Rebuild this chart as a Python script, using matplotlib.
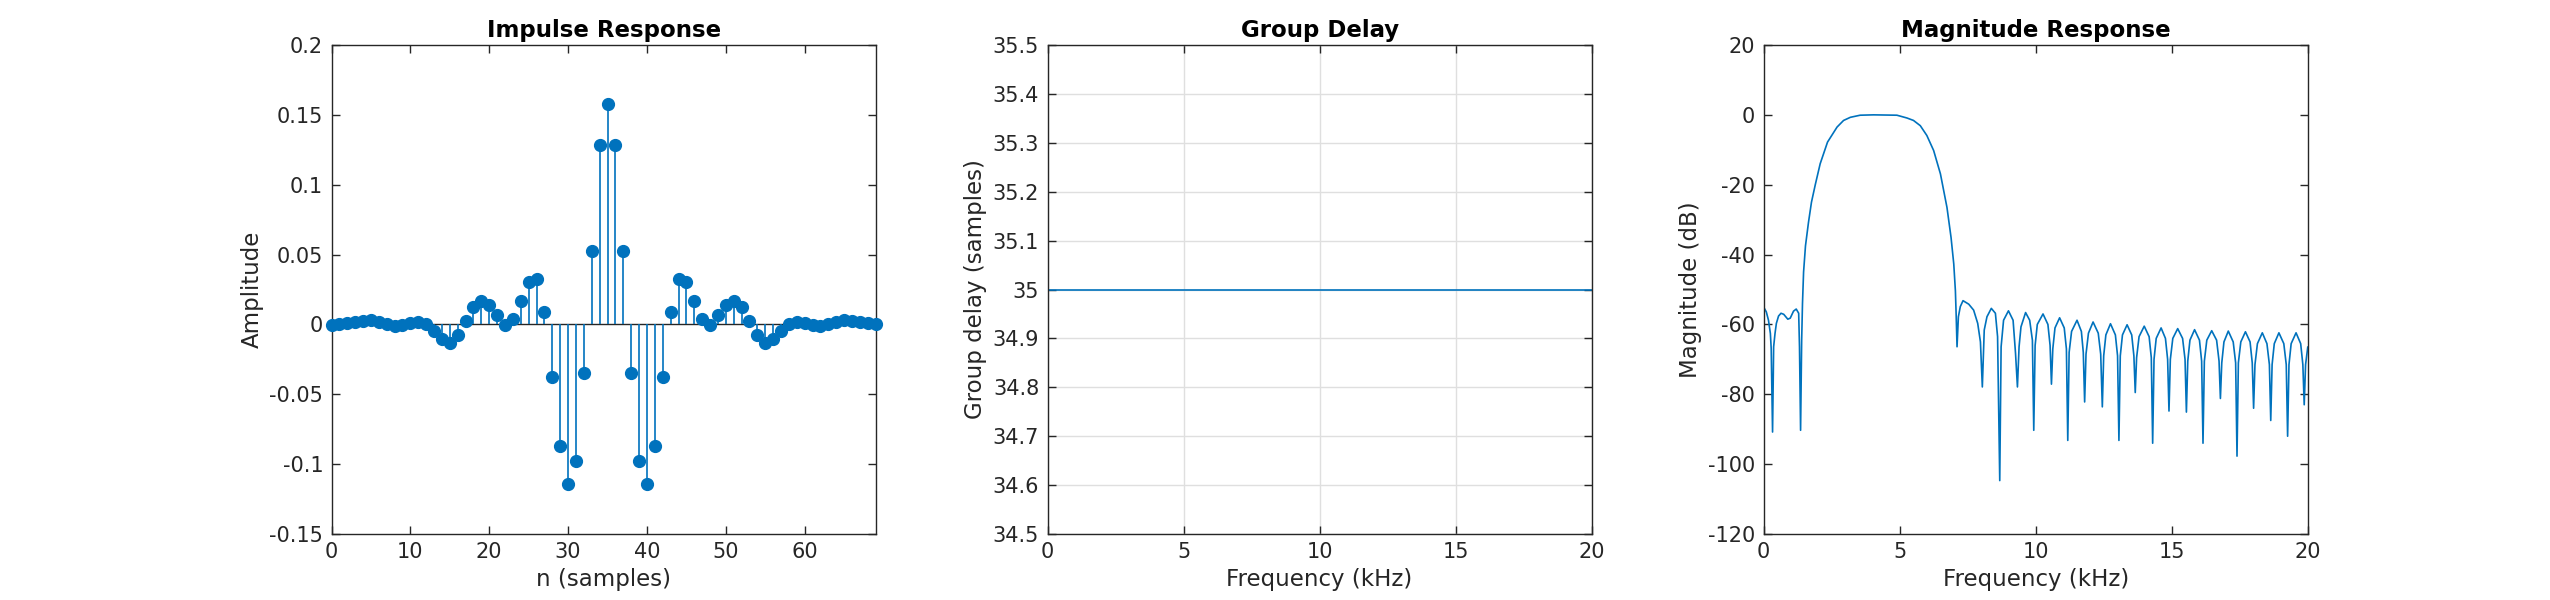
import numpy as np
import matplotlib
matplotlib.use('Agg')
import matplotlib.pyplot as plt

plt.rcParams['font.family'] = ['DejaVu Sans']

BLUE = '#0072BD'
AXCOL = '#262626'

# impulse response h[n], n = 0..70
n_samples = np.arange(71)
impulse = [
    -0.0003, 0.0002, 0.0010, 0.0017, 0.0026, 0.0031, 0.0019, 0.0000, -0.0012, -0.0002,
    0.0007, 0.0017, 0.0000, -0.0050, -0.0103, -0.0132, -0.0077, 0.0022, 0.0122, 0.0170,
    0.0141, 0.0065, -0.0002, 0.0040, 0.0165, 0.0302, 0.0324, 0.0086, -0.0375, -0.0872,
    -0.1145, -0.0974, -0.0347, 0.0526, 0.1285, 0.1576, 0.1285, 0.0526, -0.0347, -0.0974,
    -0.1145, -0.0872, -0.0375, 0.0086, 0.0324, 0.0302, 0.0165, 0.0040, -0.0002, 0.0065,
    0.0141, 0.0170, 0.0122, 0.0022, -0.0077, -0.0132, -0.0103, -0.0050, 0.0000, 0.0017,
    0.0007, -0.0002, -0.0012, 0.0000, 0.0019, 0.0031, 0.0026, 0.0017, 0.0010, 0.0002,
    -0.0003,
]
imp_yticks = [-0.15, -0.1, -0.05, 0, 0.05, 0.1, 0.15, 0.2]
imp_ylabels = ['-0.15', '-0.1', '-0.05', '0', '0.05', '0.1', '0.15', '0.2']

# group delay (samples) over frequency (kHz)
gd_freq = [0.0, 20.0]
gd_samples = [35.0, 35.0]
gd_yticks = [34.5, 34.6, 34.7, 34.8, 34.9, 35.0, 35.1, 35.2, 35.3, 35.4, 35.5]
gd_ylabels = ['34.5', '34.6', '34.7', '34.8', '34.9', '35', '35.1', '35.2', '35.3', '35.4', '35.5']

# magnitude response, frequency in kHz and level in dB
mag_freq = [
    0.00, 0.10, 0.18, 0.25, 0.28, 0.31, 0.33, 0.37, 0.42, 0.47, 0.55, 0.64, 0.74, 0.89, 0.98,
    1.10, 1.20, 1.29, 1.32, 1.36, 1.40, 1.43, 1.47, 1.54, 1.65, 1.76, 1.90, 2.08, 2.35, 2.70,
    2.94, 3.19, 3.55, 4.04, 4.90, 5.27, 5.51, 5.76, 6.00, 6.25, 6.50, 6.74, 6.89, 6.99, 7.05,
    7.08, 7.11, 7.16, 7.23, 7.33, 7.54, 7.72, 7.87, 7.97, 8.04, 8.11, 8.21, 8.37, 8.52, 8.60,
    8.68, 8.73, 8.82, 9.00, 9.17, 9.26, 9.33, 9.39, 9.46, 9.63, 9.78, 9.88, 9.93,
    9.98, 10.06, 10.27, 10.45, 10.53, 10.58,
    10.63, 10.71, 10.88, 11.05, 11.13, 11.18,
    11.23, 11.32, 11.52, 11.68, 11.75, 11.80,
    11.85, 11.94, 12.11, 12.30, 12.39, 12.45,
    12.50, 12.58, 12.75, 12.93, 13.01, 13.06,
    13.11, 13.19, 13.36, 13.53, 13.61, 13.66,
    13.71, 13.80, 13.99, 14.17, 14.25, 14.30,
    14.35, 14.43, 14.61, 14.77, 14.85, 14.90,
    14.95, 15.04, 15.22, 15.40, 15.49, 15.54,
    15.59, 15.67, 15.84, 16.02, 16.10, 16.15,
    16.20, 16.29, 16.47, 16.65, 16.74, 16.79,
    16.84, 16.92, 17.08, 17.26, 17.35, 17.40,
    17.45, 17.54, 17.71, 17.88, 17.96, 18.01,
    18.06, 18.15, 18.33, 18.50, 18.59, 18.64,
    18.69, 18.77, 18.94, 19.12, 19.21, 19.26,
    19.31, 19.39, 19.57, 19.74, 19.82, 19.87,
    19.92, 20.00,
]
mag_db = [
    -55.0, -56.4, -58.8, -62.6, -66.9, -80.3, -90.8, -66.4, -62.6, -59.7, -57.6, -56.8, -57.1, -58.5, -58.2,
    -56.2, -55.6, -56.8, -66.4, -90.3, -64.5, -54.0, -45.0, -37.5, -30.8, -25.0, -20.0, -14.0, -7.8, -3.5,
    -1.6, -0.7, -0.1, 0.0, -0.1, -0.9, -1.6, -3.1, -5.9, -10.2, -16.9, -26.5, -35.1, -42.7, -50.4,
    -57.8, -66.4, -57.8, -54.9, -53.2, -54.2, -55.9, -59.7, -65.0, -77.9, -61.6, -57.8, -55.4, -56.8, -63.5,
    -104.7, -66.4, -58.8, -56.1, -58.8, -68.3, -77.9, -66.4, -60.7, -56.6, -58.8, -64.5, -90.3,
    -66.0, -60.0, -57.0, -60.0, -66.0, -77.1,
    -67.0, -61.0, -58.1, -61.0, -67.0, -93.2,
    -68.0, -62.0, -58.8, -62.0, -68.0, -82.2,
    -68.5, -62.5, -59.3, -62.5, -68.5, -83.6,
    -69.0, -63.0, -59.8, -63.0, -69.0, -93.2,
    -69.0, -63.0, -60.1, -63.0, -69.0, -79.5,
    -69.5, -63.5, -60.5, -63.5, -69.5, -94.0,
    -70.0, -64.0, -61.0, -64.0, -70.0, -84.8,
    -70.0, -64.0, -61.2, -64.0, -70.0, -85.1,
    -70.5, -64.5, -61.5, -64.5, -70.5, -94.0,
    -70.5, -64.5, -61.8, -64.5, -70.5, -81.2,
    -71.0, -65.0, -61.9, -65.0, -71.0, -97.7,
    -71.0, -65.0, -62.1, -65.0, -71.0, -84.0,
    -71.5, -65.5, -62.4, -65.5, -71.5, -87.5,
    -71.5, -65.5, -62.4, -65.5, -71.5, -92.0,
    -71.5, -65.5, -62.4, -65.5, -71.5, -83.0,
    -71.5, -66.5,
]


def style_axes(ax):
    for spine in ax.spines.values():
        spine.set_color(AXCOL)
        spine.set_linewidth(1.0)
    ax.tick_params(direction='in', length=6, width=1.0, colors=AXCOL,
                   labelsize=15, top=True, right=True, pad=6)


fig = plt.figure(figsize=(25.5, 6), dpi=100)
ax1 = fig.add_axes([0.13, 0.11, 0.2134, 0.815])
ax2 = fig.add_axes([0.4108, 0.11, 0.2134, 0.815])
ax3 = fig.add_axes([0.6916, 0.11, 0.2134, 0.815])

# impulse response
x_max = 69
n_arr = np.asarray(n_samples)
h_arr = np.asarray(impulse)
shown = n_arr <= x_max
ax1.axhline(0, color=AXCOL, linewidth=1.0, zorder=1)
ax1.vlines(n_arr[shown], 0, h_arr[shown], color=BLUE, linewidth=1.2, zorder=2)
ax1.plot(n_arr[shown], h_arr[shown], 'o', color=BLUE, markersize=8.5, clip_on=False, zorder=3)
ax1.set_xlim(0, x_max)
ax1.set_ylim(-0.15, 0.2)
ax1.set_xticks([0, 10, 20, 30, 40, 50, 60])
ax1.set_yticks(imp_yticks)
ax1.set_yticklabels(imp_ylabels)
ax1.set_xlabel('n (samples)', fontsize=16.5, color=AXCOL)
ax1.set_ylabel('Amplitude', fontsize=16.5, color=AXCOL)
ax1.set_title('Impulse Response', fontsize=16.5, fontweight='bold', pad=6)
style_axes(ax1)

# group delay
ax2.plot(gd_freq, gd_samples, color=BLUE, linewidth=1.2)
ax2.set_xlim(0, 20)
ax2.set_ylim(34.5, 35.5)
ax2.set_xticks([0, 5, 10, 15, 20])
ax2.set_yticks(gd_yticks)
ax2.set_yticklabels(gd_ylabels)
ax2.grid(True, color='#DFDFDF', linewidth=1.0)
ax2.set_axisbelow(True)
ax2.set_xlabel('Frequency (kHz)', fontsize=16.5, color=AXCOL)
ax2.set_ylabel('Group delay (samples)', fontsize=16.5, color=AXCOL)
ax2.set_title('Group Delay', fontsize=16.5, fontweight='bold', pad=6)
style_axes(ax2)

# magnitude response
ax3.plot(mag_freq, mag_db, color=BLUE, linewidth=1.2)
ax3.set_xlim(0, 20)
ax3.set_ylim(-120, 20)
ax3.set_xticks([0, 5, 10, 15, 20])
ax3.set_yticks([-120, -100, -80, -60, -40, -20, 0, 20])
ax3.set_yticklabels(['-120', '-100', '-80', '-60', '-40', '-20', '0', '20'])
ax3.set_xlabel('Frequency (kHz)', fontsize=16.5, color=AXCOL)
ax3.set_ylabel('Magnitude (dB)', fontsize=16.5, color=AXCOL)
ax3.set_title('Magnitude Response', fontsize=16.5, fontweight='bold', pad=6)
style_axes(ax3)

fig.savefig('out.png', dpi=100)
plt.close(fig)
